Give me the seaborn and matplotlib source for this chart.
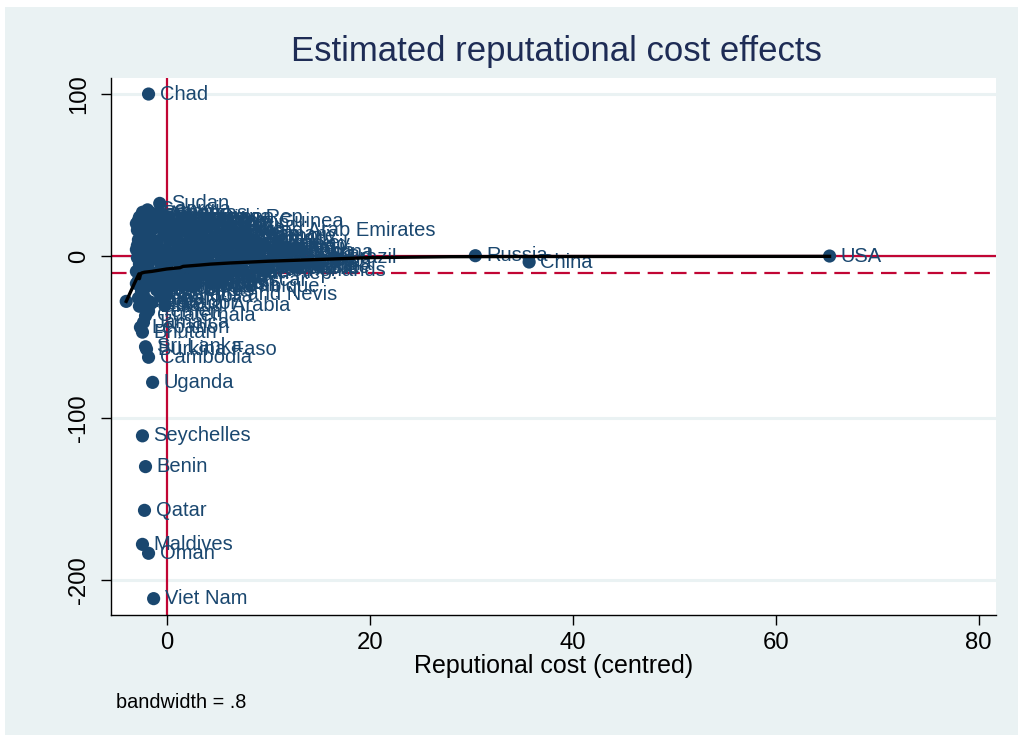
import matplotlib
matplotlib.use("Agg")
import matplotlib.pyplot as plt
from matplotlib.patches import Rectangle
from matplotlib import font_manager
import seaborn as sns
import pandas as pd

plt.rcParams['font.family'] = ['Liberation Sans', 'DejaVu Sans']

_names = {f.name for f in font_manager.fontManager.ttflist}
HAVE_NARROW = "Liberation Sans Narrow" in _names
NARROW = ['Liberation Sans Narrow', 'Liberation Sans', 'DejaVu Sans']
# scale factor so the text width matches whichever font is available
NS = 1.0 if HAVE_NARROW else 0.82

# ---------------- data ----------------
countries = [
    # clearly labelled outliers
    "Chad", "Sudan", "Papua New Guinea", "United Arab Emirates", "Trinidad and Tobago",
    "Solomon Islands", "Brazil", "Russia", "China", "USA", "Sierra Leone", "Azerbaijan",
    "St Kitts and Nevis", "Ecuador", "Saudi Arabia", "Guatemala", "Bhutan", "Sri Lanka",
    "Burkina Faso", "Cambodia", "Uganda", "Seychelles", "Benin", "Qatar", "Maldives",
    "Oman", "Viet Nam", "Kiribati",
    # lower part of the cluster
    "Lebanon", "Jamaica", "Yemen", "Haiti", "Nepal", "Laos", "Tonga", "Samoa",
    "Honduras", "Mongolia", "Senegal", "Morocco",
    # left column of the cluster
    "Gabon", "Georgia", "Bahamas", "Botswana", "Grenada", "Belize", "Dominica", "Djibouti",
    "Comoros", "Vanuatu", "Fiji", "Suriname", "Guyana", "Barbados", "Malta", "Iceland",
    "Luxembourg", "Cyprus", "Swaziland", "Lesotho", "Gambia", "Liberia", "Guinea-Bissau",
    "Mauritania", "Togo", "Burundi", "Eritrea", "Malawi", "Niger", "Mali", "Rwanda",
    "Namibia", "Cape Verde", "Somalia", "Mauritius", "Moldova", "Armenia",
    "Central African Rep.", "Dominican Rep.",
    # middle of the cluster
    "Congo", "Cameroon", "Bolivia", "Paraguay", "Nicaragua", "El Salvador", "Albania",
    "Kyrgyzstan", "Tajikistan", "Jordan", "Costa Rica", "Panama", "Uruguay", "Latvia",
    "Estonia", "Slovenia", "Tunisia", "Kenya", "Ghana", "Zambia", "Madagascar",
    "Mozambique", "Zimbabwe", "Tanzania", "Cote d'Ivoire", "Bosnia", "Lithuania",
    "Croatia", "Cuba", "Pakistan", "Bangladesh", "Philippines", "Thailand", "Ukraine",
    "Kazakhstan", "Algeria", "Iraq", "Myanmar", "Ethiopia", "Afghanistan", "Uzbekistan",
    "Turkmenistan", "Belarus", "Romania", "Bulgaria", "Slovakia",
    # right part of the cluster
    "Kuwait", "Bahrain", "Singapore", "Ireland", "New Zealand", "Norway", "Denmark",
    "Finland", "Greece", "Portugal", "Hungary", "Czech Republic", "Chile", "Peru",
    "Israel", "Egypt", "Nigeria", "Libya", "Syria", "Malaysia", "South Africa",
    "Venezuela", "Colombia", "Iran",
    # tail towards larger costs
    "Sweden", "Switzerland", "Austria", "Belgium", "Argentina", "Mexico", "Canada",
    "Spain", "Italy", "Japan", "India", "Indonesia", "Turkey", "Poland", "Netherlands",
    "Germany", "France",
]

cost = [
    -1.8, -0.7, -0.9, 6.6, -3.0,
    -2.8, 16.6, 30.4, 35.7, 65.3, -3.0, 1.1,
    0.0, -1.5, -0.2, -2.1, -2.4, -2.1,
    -2.0, -1.8, -1.4, -2.4, -2.1, -2.2, -2.4,
    -1.8, -1.3, -4.0,
    -2.6, -2.3, -1.8, -2.7, -2.0, -2.5, -2.8, -2.2,
    -1.0, -0.6, 0.3, 1.0,
    -2.4, -1.9, -1.5, -2.7, -2.2, -3.0, -2.5, -1.7,
    -2.9, -2.1, -2.6, -1.6, -2.3, -2.9, -1.8, -2.5,
    -1.6, -2.9, -2.2, -2.7, -1.9, -2.4, -3.0,
    -1.6, -2.6, -2.1, -2.8, -1.7, -2.3, -1.5, -2.0,
    -1.5, -2.8, -1.8, -2.0, -1.5, -2.6,
    -2.1, -1.3,
    -0.5, 0.2, -0.8, 0.5, 1.5, -0.3, 0.8,
    2.2, -1.0, 1.2, 2.5, -0.2, 0.9, 2.0,
    -0.7, 1.5, -0.3, 2.7, 0.4, -0.9, 1.8,
    2.6, -1.2, 0.0, 2.9, 0.3, -1.1,
    1.4, 2.4, 2.0, -0.4, 1.0, 3.0, 2.3,
    1.6, 2.8, 1.2, -0.6, 0.6, -1.3, 0.0,
    -1.0, 0.7, 2.2, -0.2, 1.7,
    3.5, 4.2, 6.5, 3.8, 5.0, 7.2, 4.4,
    6.0, 3.3, 5.3, 7.0, 3.9, 6.3, 4.6,
    7.8, 3.1, 5.8, 4.0, 3.6, 4.8, 6.8,
    4.1, 5.6, 6.6,
    8.3, 8.8, 9.5, 10.2, 10.8, 11.5, 10.5,
    12.0, 13.8, 11.8, 14.8, 9.2, 11.0, 8.5, 9.8,
    7.5, 12.8,
]

effect = [
    100.0, 32.5, 21.5, 15.5, 4.0,
    10.0, -1.0, 0.2, -3.7, 0.0, -17.0, -11.0,
    -24.0, -29.0, -30.5, -37.0, -47.0, -56.0,
    -57.5, -62.5, -78.0, -111.0, -130.0, -157.0, -178.0,
    -183.5, -211.5, -28.0,
    -44.0, -41.0, -34.0, -31.0, -27.0, -22.0, -26.0, -20.0,
    -21.0, -25.0, -19.0, -17.0,
    27.0, 28.5, 26.5, 24.0, 22.5, 20.0, 18.0, 19.5,
    16.0, 14.0, 12.0, 11.0, 8.0, 6.5, 5.0, 2.0,
    0.5, -1.0, -3.0, -5.0, -6.5, -8.0, -9.5,
    -10.0, -12.0, -13.5, -15.0, -16.0, -18.5, -14.0, -2.0,
    16.0, 22.0, 2.5, 9.0, 7.0, -16.5,
    -10.5, 24.0,
    26.0, 24.0, 18.0, 19.0, 17.0, 14.0, 12.0,
    13.5, 9.0, 8.0, 6.0, 4.0, 2.0, -1.0,
    -3.0, -5.0, -7.0, -9.0, -12.0, -14.0, -15.0,
    -19.0, -11.0, -16.5, 3.0, 10.0, -1.0,
    22.0, 21.0, -17.0, -18.0, 15.0, 0.0, 10.0,
    4.5, -12.0, -9.0, -5.0, -2.0, 6.0, 1.0,
    3.0, 16.0, -7.0, 23.0, 24.0,
    18.0, 20.0, 12.0, 10.0, 7.0, 8.0, 4.0,
    1.0, -2.0, -4.0, -6.0, -8.0, -10.0, -13.0,
    3.0, 14.0, -2.0, 22.0, -11.5, -7.0, -3.0,
    1.0, 5.0, 9.0,
    5.0, -1.0, 6.0, -3.0, 2.0, -5.0, 3.0,
    1.5, -4.0, -2.0, -5.5, -7.0, 8.0, 10.0, -9.0,
    13.0, -7.0,
]

# lowess smooth (bandwidth = .8)
smooth_x = [-4.0, -3.2, -2.9, -2.75, -2.7, -2.6, -2.5, -2.2, -1.5, 0.0, 1.3, 1.6,
            3.2, 4.3, 6.2, 10.0, 16.0, 20.0, 28.0, 36.0, 65.3]
smooth_y = [-28.0, -17.0, -13.0, -11.0, -14.0, -11.5, -10.5, -10.0, -9.5, -8.0, -7.2, -6.4,
            -5.6, -5.0, -4.3, -3.2, -1.9, -1.0, -0.4, -0.3, -0.2]

mean_effect = -10.5

title = "Estimated reputational cost effects"
xlabel = "Reputional cost (centred)"
note = "bandwidth = .8"
xticks = [0, 20, 40, 60, 80]
yticks = [-200, -100, 0, 100]

df = pd.DataFrame({"country": countries, "cost": cost, "effect": effect})
sm = pd.DataFrame({"x": smooth_x, "y": smooth_y})

# ---------------- colours ----------------
navy = "#1A476F"
red = "#C10534"
bg = "#EAF2F3"

fig = plt.figure(figsize=(10.18, 7.37), dpi=100)
fig.patch.set_facecolor("white")
fig.add_artist(Rectangle((0.005, 0.003), 0.995, 0.987, transform=fig.transFigure,
                         facecolor=bg, edgecolor="none", zorder=-10))

ax = fig.add_axes([111 / 1018, 1 - 615 / 737, (996 - 111) / 1018, (615 - 78) / 737])
ax.set_facecolor("white")

# grid lines
for yv in yticks:
    ax.axhline(yv, color=bg, lw=2.2, zorder=0)

# reference lines
ax.axhline(0, color=red, lw=1.6, zorder=1)
ax.axvline(0, color=red, lw=1.6, zorder=1)
ax.axhline(mean_effect, color=red, lw=1.6, dashes=(7, 3.5), zorder=1)

sns.scatterplot(data=df, x="cost", y="effect", ax=ax, color=navy, s=90,
                edgecolor="none", linewidth=0, zorder=3, legend=False)

for name, xv, yv in zip(df["country"], df["cost"], df["effect"]):
    ax.annotate(name, (xv, yv), xytext=(8, 0), textcoords="offset points",
                ha="left", va="center", fontsize=14.5, color=navy, zorder=4)

sns.lineplot(data=sm, x="x", y="y", ax=ax, color="black", lw=2.4, sort=False,
             estimator=None, zorder=5)

ax.set_xlim(-5.5, 81.7)
ax.set_ylim(-221.6, 109.9)
ax.set_xticks(xticks)
ax.set_yticks(yticks)
ax.set_xticklabels([str(t) for t in xticks], family=NARROW, fontsize=21 * NS)
ax.set_yticklabels([str(t) for t in yticks], rotation=90, va="center",
                   family=NARROW, fontsize=21 * NS)
ax.tick_params(axis="both", length=7, width=1, color="black", labelcolor="black")
ax.tick_params(axis="x", pad=5)
ax.tick_params(axis="y", pad=8)

for s in ["top", "right"]:
    ax.spines[s].set_visible(False)
for s in ["left", "bottom"]:
    ax.spines[s].set_color("black")
    ax.spines[s].set_linewidth(1)

ax.set_xlabel(xlabel, fontsize=22 * NS, family=NARROW, color="black", labelpad=0)
ax.set_ylabel("")

fig.text(556 / 1018, 1 - 52 / 737, title, ha="center", va="center",
         fontsize=30.5 * NS, family=NARROW, color="#1E2C55")
fig.text(116 / 1018, 1 - 703 / 737, note, ha="left", va="center",
         fontsize=17.5 * NS, family=NARROW, color="black")

fig.savefig("out.png", dpi=100, facecolor=fig.get_facecolor())
